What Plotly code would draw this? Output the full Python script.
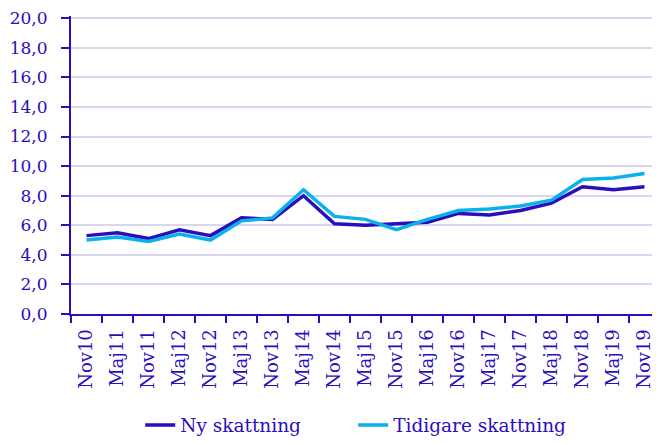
import plotly.graph_objects as go

categories = ["Nov10", "Maj11", "Nov11", "Maj12", "Nov12", "Maj13", "Nov13", "Maj14",
              "Nov14", "Maj15", "Nov15", "Maj16", "Nov16", "Maj17", "Nov17", "Maj18",
              "Nov18", "Maj19", "Nov19"]
ny_skattning = [5.3, 5.5, 5.1, 5.7, 5.3, 6.5, 6.4, 8.0, 6.1, 6.0, 6.1, 6.2, 6.8, 6.7,
                7.0, 7.5, 8.6, 8.4, 8.6]
tidigare_skattning = [5.0, 5.2, 4.9, 5.4, 5.0, 6.3, 6.5, 8.4, 6.6, 6.4, 5.7, 6.4, 7.0, 7.1,
                      7.3, 7.7, 9.1, 9.2, 9.5]
y_ticks = [0, 2, 4, 6, 8, 10, 12, 14, 16, 18, 20]

dark = "#2A0EBE"
light = "#0BB1EA"
grid = "#D8D6F0"
font_family = "DejaVu Serif"

fig = go.Figure()
fig.add_trace(go.Scatter(x=categories, y=ny_skattning, mode="lines", name="Ny skattning",
                         line=dict(color=dark, width=3.5)))
fig.add_trace(go.Scatter(x=categories, y=tidigare_skattning, mode="lines", name="Tidigare skattning",
                         line=dict(color=light, width=3.5)))

# page has an 8px body margin: figure is 652x437 placed at (8, 8)
fig.update_layout(
    width=652, height=437,
    margin=dict(l=63, r=0, t=8, b=129),
    paper_bgcolor="white", plot_bgcolor="white",
    separators=", ",
    font=dict(family=font_family, size=17, color=dark),
    showlegend=True,
    legend=dict(orientation="h", x=0.1175, xanchor="left", y=-0.31, yanchor="top",
                font=dict(size=18.5, color=dark), entrywidth=168, entrywidthmode="pixels",
                tracegroupgap=0),
)
fig.update_xaxes(type="category", range=[-0.5, len(categories) - 0.5],
                 tickson="boundaries", ticks="outside", ticklen=7, tickwidth=2, tickcolor=dark,
                 showline=True, linecolor=dark, linewidth=2, showgrid=False,
                 tickangle=-90, ticklabelstandoff=6, ticklabeloverflow="allow",
                 tickfont=dict(size=18, color=dark))
fig.update_yaxes(range=[0, 20.15], tickvals=y_ticks, tickformat=".1f",
                 ticks="outside", ticklen=8, tickwidth=2, tickcolor=dark,
                 showline=True, linecolor=dark, linewidth=2,
                 showgrid=True, gridcolor=grid, gridwidth=2, zeroline=False,
                 ticklabelstandoff=10, ticklabeloverflow="allow",
                 tickfont=dict(size=17, color=dark))

fig.write_html("out.html")
